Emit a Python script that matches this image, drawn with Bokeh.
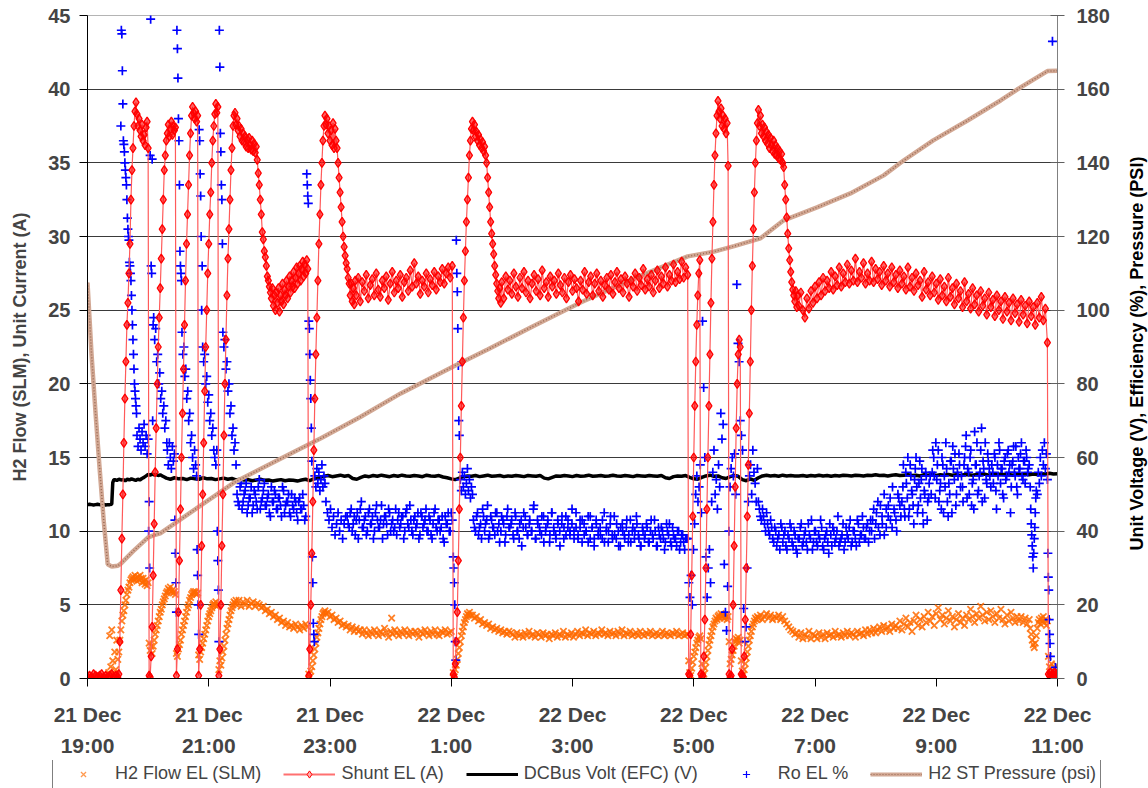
import numpy as np
from bokeh.plotting import figure
from bokeh.layouts import column, row
from bokeh.models import ColumnDataSource, Range1d, LinearAxis, FixedTicker, Legend, LegendItem, Label
from bokeh.embed import file_html
from bokeh.resources import INLINE

FONT = "Liberation Sans"

# ---------------- axis ticks / labels ----------------
x_ticks = [0, 120, 240, 360, 480, 600, 720, 840, 960]   # minutes after 21 Dec 19:00
x_tick_labels = ["21 Dec\n19:00", "21 Dec\n21:00", "21 Dec\n23:00", "22 Dec\n1:00", "22 Dec\n3:00",
                 "22 Dec\n5:00", "22 Dec\n7:00", "22 Dec\n9:00", "22 Dec\n11:00"]
left_ticks = [0, 5, 10, 15, 20, 25, 30, 35, 40, 45]
right_ticks = [0, 20, 40, 60, 80, 100, 120, 140, 160, 180]
left_title = "H2 Flow (SLM), Unit Current (A)"
right_title = "Unit Voltage (V), Efficiency (%), Pressure (PSI)"
series_names = ["H2 Flow EL (SLM)", "Shunt EL (A)", "DCBus Volt (EFC) (V)", "Ro EL %", "H2 ST Pressure (psi)"]

# ---------------- data (segments: start minute, end minute, values) ----------------
shunt_segments = [
    (0, 30, [0.1, 0.2, 0.1, 0.3, 0.2, 0.1, 0.2, 0.3, 0.1, 0.2, 0.1, 0.2, 0.3, 0.1, 0.2, 0.1]),
    (31, 47, [0.3, 2.5, 6, 9.5, 12.5, 16, 19, 21.5, 24, 25.5, 27.5, 29.5, 32.5, 34.5, 36, 37.5, 38.5]),
    (48, 60, [39.1, 38.3, 37.5, 38.0, 37.2, 36.8, 37.6, 36.5, 36.9, 36.2, 37.4, 37.8, 36.0]),
    (61, 62, [0.2, 0.1]),
    (63, 78, [1.5, 3.5, 7, 10.5, 14, 17, 20, 22.5, 24.5, 26.5, 28.5, 30.5, 32.5, 34.5, 35.5, 36.5]),
    (79, 87, [37.0, 37.6, 36.8, 37.3, 37.8, 36.9, 37.5, 37.2, 37.4]),
    (88, 88, [0.2]),
    (89, 103, [2, 4.5, 8, 11.5, 15, 18, 21, 24, 27, 29.5, 31.5, 33.5, 35.5, 37, 38.2]),
    (104, 109, [38.8, 38.4, 38.0, 38.5, 37.8, 38.2]),
    (110, 110, [0.2]),
    (111, 126, [2, 5, 9, 12.5, 16, 19.5, 22.5, 25, 27.5, 29.5, 31.5, 33, 35, 36.5, 37.5, 38.3]),
    (127, 129, [39.0, 38.4, 38.8]),
    (130, 130, [0.2]),
    (131, 144, [2, 5, 9, 12.5, 16.5, 20, 23, 26, 28.5, 30.5, 32.5, 34.5, 36, 37.5]),
    (145, 168, [38.2, 38.4, 37.6, 38.0, 37.2, 37.5, 36.8, 37.3, 36.5, 37.0, 36.4, 36.8, 36.1, 36.6, 36.0,
                36.7, 36.2, 35.9, 36.5, 35.8, 36.3, 35.7, 36.1, 35.2]),
    (169, 186, [34.3, 33.5, 32.5, 31.5, 30.3, 29.8, 29.0, 28.6, 28.0, 27.3, 27.0, 26.6, 26.2, 25.8, 26.5,
                25.3, 26.0, 25.0]),
    (187, 218, [26.2, 25.5, 26.5, 24.9, 26.0, 25.6, 26.8, 25.4, 26.4, 26.0, 27.0, 25.8, 26.6, 27.3, 26.2,
                27.0, 26.6, 27.6, 26.5, 27.2, 27.9, 26.8, 27.5, 28.0, 27.0, 27.8, 28.3, 27.3, 28.1, 27.5,
                28.4, 27.8]),
    (219, 219, [0.2]),
    (220, 234, [2, 5, 8.5, 12, 15.5, 19, 22, 24.5, 27, 29.5, 31.5, 33.5, 35, 36.5, 37.5]),
    (235, 247, [38.2, 37.6, 38.0, 37.0, 37.5, 36.5, 37.2, 36.2, 37.7, 36.0, 37.3, 36.5, 36.0]),
    (248, 265, [35.0, 34.0, 33.0, 32.0, 31.0, 30.0, 29.3, 28.7, 28.2, 27.8, 27.2, 26.8, 26.0, 26.8, 25.6,
                26.5, 25.4, 27.0]),
    (266, 361, [26.0, 27.2, 25.6, 26.9, 26.3, 27.4, 25.8, 26.7, 27.1, 26.0, 27.5, 26.4, 25.9, 27.0, 26.5,
                27.3, 25.7, 26.8, 27.6, 26.2, 27.0, 26.5, 27.4, 25.9, 26.9, 27.2, 26.3, 27.7, 26.6, 28.2,
                26.8, 27.3, 26.1, 27.0, 26.6, 27.5, 26.2, 27.1, 26.7, 27.6, 26.4, 27.3, 26.9, 27.8, 26.8,
                27.5, 27.9, 27.2, 28.0]),
    (362, 363, [0.3, 0.1]),
    (364, 380, [1, 2.5, 4.5, 8, 11.5, 15, 18.5, 21.5, 24.5, 27, 29, 31, 32.5, 34, 35.5, 36.5, 37.3]),
    (381, 394, [37.8, 37.2, 37.6, 36.8, 37.1, 36.5, 36.9, 36.2, 36.6, 36.0, 36.4, 35.8, 36.1, 35.5]),
    (395, 409, [35.0, 34.0, 33.0, 32.0, 31.0, 30.2, 29.5, 28.8, 28.0, 27.4, 26.8, 26.3, 25.8, 26.5, 25.5]),
    (410, 594, [26.9, 25.8, 27.3, 26.4, 27.0, 26.1, 27.5, 26.6, 25.9, 27.2, 26.5, 27.6, 26.2, 27.0, 25.8,
                26.8, 27.4, 26.3, 27.1, 26.0, 27.7, 26.5, 26.9, 25.9, 27.3, 26.6, 27.0, 26.1, 27.5, 26.7,
                26.2, 27.2, 25.8, 26.9, 27.4, 26.3, 27.1, 26.5, 25.6, 27.0, 26.4, 27.6, 26.1, 26.9, 27.3,
                26.0, 26.8, 27.5, 26.3, 27.0, 25.9, 26.7, 27.2, 26.4, 27.4, 26.1, 26.9, 27.6, 26.5, 27.1,
                26.2, 27.3, 26.8, 25.9, 27.0, 26.6, 27.5, 26.3, 27.2, 26.7, 27.8, 26.4, 27.1, 26.6, 27.4,
                26.2, 27.0, 27.7, 26.5, 27.3, 26.8, 27.9, 26.6, 27.4, 27.0, 28.1, 26.9, 27.6, 27.1, 28.3,
                27.2, 27.9, 27.4]),
    (595, 596, [0.3, 0.2]),
    (597, 606, [3, 7, 11, 15, 18.5, 21.5, 24, 26, 27.5, 28.4]),
    (607, 609, [0.3, 0.1, 0.2]),
    (610, 623, [1.5, 4, 7.5, 11.5, 15, 18.5, 22, 25.5, 28.5, 31, 33.5, 35.5, 37, 38.2]),
    (624, 634, [39.2, 38.5, 38.0, 38.7, 37.5, 38.2, 37.3, 38.0, 37.0, 37.7, 34.8]),
    (635, 637, [0.3, 0.1, 0.2]),
    (638, 646, [2, 5, 9, 13, 17, 20, 22, 23, 22.5]),
    (647, 649, [0.3, 0.2, 0.1]),
    (650, 663, [1.5, 4, 7.5, 11, 14.5, 18, 21.5, 25, 28, 30.5, 33, 35, 36.5, 37.7]),
    (664, 688, [38.6, 37.5, 38.2, 37.0, 37.6, 36.8, 37.4, 36.5, 37.1, 36.3, 36.9, 36.0, 36.7, 36.2, 35.8,
                36.5, 35.6, 36.2, 35.5, 36.0, 35.3, 35.8, 35.2, 35.6, 35.0]),
    (689, 703, [34.7, 33.5, 32.5, 31.3, 30.2, 29.2, 28.4, 27.6, 26.9, 26.4, 26.0, 25.6, 26.3, 25.2, 26.0]),
    (704, 950, [25.3, 26.2, 25.0, 24.5, 25.8, 25.1, 26.3, 25.5, 26.6, 25.8, 26.9, 26.0, 27.2, 26.3, 27.0,
                26.5, 27.6, 26.4, 27.3, 26.7, 27.9, 26.6, 27.5, 26.9, 28.1, 26.8, 27.7, 27.0, 28.5, 26.9,
                27.6, 27.2, 28.2, 26.8, 27.5, 27.0, 28.3, 26.9, 27.8, 27.1, 27.6, 26.7, 28.0, 27.0, 27.5,
                26.6, 27.9, 26.9, 27.4, 26.5, 27.7, 26.8, 27.3, 26.4, 27.9, 26.6, 27.2, 26.3, 27.5, 26.7,
                27.0, 25.9, 27.6, 26.4, 26.9, 26.0, 27.3, 26.2, 26.8, 25.7, 27.1, 26.0, 26.6, 25.6, 27.2,
                25.9, 26.5, 25.4, 26.8, 25.8, 26.3, 25.2, 26.9, 25.6, 26.1, 25.1, 26.5, 25.4, 26.0, 24.9,
                26.3, 25.3, 25.8, 24.7, 26.2, 25.2, 25.7, 24.6, 26.0, 25.0, 25.6, 24.4, 25.9, 24.9, 25.5,
                24.3, 25.8, 24.8, 25.4, 24.2, 25.7, 24.7, 25.3, 24.1, 25.6, 24.6, 25.2, 24.0, 25.5, 24.5,
                25.9, 24.3, 25.1, 22.8]),
    (951, 960, [0.3, 0.2, 0.4, 0.1, 0.3, 0.2, 0.4, 0.1, 0.3, 0.2]),
]

flow_segments = [
    (0, 20, [0.1, 0.0, 0.1, 0.1, 0.0, 0.1, 0.0, 0.1, 0.1, 0.0, 0.1]),
    (21, 30, [0.4, 2.9, 0.8, 3.3, 1.2, 0.3, 1.8, 0.6, 2.6, 1.3]),
    (31, 60, [1.8, 2.6, 3.3, 3.9, 4.3, 4.6, 5.0, 5.3, 5.7, 6.0, 6.2, 6.5, 6.7, 6.8, 6.9, 6.7, 7.0, 6.8,
              6.6, 6.9, 6.7, 7.0, 6.8, 6.5, 6.8, 6.6, 6.4, 6.7, 6.3, 6.5]),
    (61, 64, [2.4, 1.9, 2.2, 1.7]),
    (65, 87, [2.2, 2.6, 3.0, 3.3, 3.6, 3.9, 4.2, 4.5, 4.7, 5.0, 5.2, 5.4, 5.6, 5.8, 5.9, 6.1, 6.0, 6.2,
              5.9, 6.0, 5.8, 5.9, 5.7]),
    (88, 90, [1.7, 1.5, 2.0]),
    (91, 109, [2.3, 2.6, 3.0, 3.3, 3.6, 3.9, 4.2, 4.5, 4.8, 5.0, 5.3, 5.5, 5.7, 5.8, 5.9, 5.8, 5.9, 5.7, 5.8]),
    (110, 112, [1.6, 1.3, 1.8]),
    (113, 129, [2.1, 2.4, 2.7, 3.0, 3.3, 3.6, 3.9, 4.2, 4.4, 4.6, 4.8, 5.0, 5.1, 5.0, 5.2, 4.9, 5.0]),
    (130, 132, [0.6, 1.2, 0.9]),
    (133, 147, [1.4, 1.8, 2.2, 2.6, 3.0, 3.4, 3.7, 4.0, 4.3, 4.6, 4.8, 5.0, 5.2, 5.1, 5.3]),
    (148, 168, [5.0, 5.3, 4.9, 5.2, 5.0, 5.3, 4.9, 5.1, 5.2, 4.9, 5.1]),
    (170, 200, [5.0, 4.8, 4.9, 4.6, 4.7, 4.4, 4.5, 4.2, 4.3, 4.0, 4.1, 3.8, 3.9, 3.6, 3.8, 3.5]),
    (202, 218, [3.6, 3.4, 3.7, 3.5, 3.3, 3.6, 3.4, 3.7, 3.5]),
    (219, 222, [0.3, 0.1, 0.5, 0.8]),
    (223, 236, [1.2, 1.6, 2.0, 2.4, 2.8, 3.1, 3.4, 3.7, 4.0, 4.2, 4.4, 4.5, 4.6, 4.4]),
    (238, 270, [4.5, 4.2, 4.3, 4.0, 4.1, 3.8, 3.9, 3.6, 3.7, 3.5, 3.6, 3.3, 3.5, 3.2, 3.4, 3.2, 3.3]),
    (272, 360, [3.0, 3.3, 3.1, 2.9, 3.2, 3.0, 3.3, 3.1, 2.9, 3.2, 3.0, 3.4, 3.1, 2.8, 3.2, 3.0, 3.3, 3.1,
                2.9, 3.2, 3.0, 3.3, 3.1, 2.9, 3.2, 3.0, 3.2, 3.1, 2.8, 3.2, 3.0, 3.3, 3.1, 2.9, 3.2, 3.0,
                3.3, 3.0, 2.9, 3.2, 3.1, 3.3, 3.0, 3.1, 3.2]),
    (301, 301, [4.1]),
    (362, 365, [0.4, 0.1, 0.6, 0.9]),
    (366, 379, [1.3, 1.7, 2.1, 2.5, 2.9, 3.2, 3.5, 3.8, 4.0, 4.2, 4.4, 4.3, 4.5, 4.3]),
    (381, 419, [4.3, 4.1, 4.2, 3.9, 4.0, 3.7, 3.8, 3.6, 3.7, 3.4, 3.5, 3.3, 3.4, 3.2, 3.3, 3.1, 3.2, 3.0,
                3.2, 3.1]),
    (421, 593, [3.0, 2.8, 3.1, 2.9, 3.0, 2.8, 3.1, 2.9, 3.2, 2.9, 3.0, 2.8, 3.1, 3.0, 2.8, 3.1, 2.9, 3.0,
                2.7, 3.0, 2.9, 3.1, 2.8, 3.0, 2.9, 3.2, 2.8, 3.0, 2.9, 3.1, 2.8, 3.0, 3.2, 2.9, 3.1, 3.0,
                3.3, 2.9, 3.1, 3.0, 3.2, 2.9, 3.1, 3.0, 3.3, 3.0, 3.1, 2.9, 3.2, 3.0, 3.1, 2.9, 3.2, 3.0,
                3.3, 2.9, 3.1, 3.0, 3.2, 2.9, 3.0, 3.1, 2.9, 3.2, 3.0, 2.9, 3.1, 3.0, 3.2, 2.9, 3.0, 3.1,
                2.9, 3.0, 3.2, 2.9, 3.1, 3.0, 2.9, 3.1, 3.0, 3.2, 2.9, 3.0, 3.1, 2.9, 3.0]),
    (594, 663, [3.0, 1.2, 0.4, 0.2, 0.7, 1.1, 1.5, 1.8, 2.1, 2.4, 2.6, 2.8, 2.9, 2.7, 1.0, 0.5, 0.3, 0.7,
                1.1, 1.5, 1.9, 2.3, 2.6, 2.9, 3.2, 3.5, 3.7, 3.9, 4.1, 4.0, 4.2, 4.3, 4.1, 4.4, 4.2, 4.3,
                4.1, 4.3, 4.2, 4.0, 4.2, 2.5, 1.0, 1.3, 1.6, 1.9, 2.2, 2.5, 2.7, 2.6, 2.8, 2.4, 2.6, 1.2,
                0.5, 0.3, 0.6, 1.0, 1.4, 1.8, 2.2, 2.6, 2.9, 3.2, 3.5, 3.7, 3.9, 4.1, 4.0, 4.2]),
    (664, 688, [4.1, 4.3, 4.0, 4.2, 4.4, 4.1, 4.3, 4.0, 4.2, 4.1, 4.3, 4.0, 4.2]),
    (690, 702, [3.9, 3.7, 3.5, 3.3, 3.2, 3.0, 3.1]),
    (704, 770, [2.8, 3.1, 2.7, 3.0, 2.8, 3.2, 2.7, 3.0, 2.9, 2.7, 3.1, 2.8, 3.0, 2.7, 3.1, 2.9, 3.0, 2.8,
                3.2, 2.9, 3.0, 2.8, 3.1, 2.9, 3.2, 2.9, 3.1, 3.0, 2.8, 3.2, 3.0, 3.1, 2.9, 3.3]),
    (772, 800, [3.0, 3.3, 3.1, 3.4, 3.1, 3.3, 3.5, 3.2, 3.6, 3.3, 3.5, 3.2, 3.7, 3.4, 3.6]),
    (802, 830, [3.4, 3.9, 3.3, 3.7, 4.1, 3.5, 3.8, 3.2, 3.9, 4.3, 3.6, 4.0, 3.5, 4.2, 3.8]),
    (832, 870, [4.5, 3.9, 4.2, 3.6, 4.4, 4.8, 4.0, 4.3, 3.7, 4.1, 4.6, 3.9, 4.2, 3.5, 4.0, 4.4, 3.8, 4.1,
                3.6, 4.3]),
    (872, 920, [4.0, 4.7, 4.2, 3.8, 4.4, 4.1, 4.9, 4.3, 3.9, 4.5, 4.0, 4.6, 4.2, 3.8, 4.4, 4.1, 4.7, 4.0,
                3.7, 4.3, 3.9, 4.5, 4.1, 3.8, 4.2]),
    (922, 932, [3.9, 4.2, 3.8, 4.1, 3.7, 4.0]),
    (933, 941, [3.4, 3.0, 2.6, 2.3, 2.1, 2.4, 2.9, 3.4, 3.8]),
    (942, 950, [4.0, 3.7, 4.1, 3.9, 4.2, 3.8, 4.0, 3.6, 3.9]),
    (951, 960, [1.5, 0.8, 0.3, 1.0, 0.5, 0.2, 0.7, 0.4, 0.9, 0.3]),
]

ro_segments = [
    (33, 48.5, [150, 176, 175, 165, 156, 146, 145, 143, 140, 138, 136, 134, 130, 125, 122, 120, 119, 113,
                112, 110, 108, 104, 100, 96, 92, 88, 84, 80, 78, 76, 74, 72]),
    (49, 60, [66, 63, 68, 65, 62, 67, 64, 69, 63, 66, 61, 65]),
    (60.5, 65, [40, 48, 30, 142, 179, 112, 110, 141, 70, 96]),
    (65.5, 78.5, [98, 92, 95, 86, 88, 80, 83, 76, 78, 72, 74, 68, 70, 64]),
    (79, 86, [62, 58, 64, 60, 57, 63, 59, 61]),
    (86.5, 88, [43, 34, 26, 18]),
    (88.5, 93, [176, 171, 163, 152, 146, 134, 116, 112, 110, 108]),
    (93.5, 103, [94, 88, 90, 82, 84, 76, 78, 70, 72, 64, 66]),
    (104, 108, [60, 57, 62, 58, 55]),
    (108.5, 110, [35, 28, 20, 12]),
    (110.5, 113.5, [149, 146, 137, 131, 120, 100, 112]),
    (114, 126, [90, 86, 88, 80, 82, 75, 77, 70, 72, 66, 68, 62, 60]),
    (127, 128, [58, 62]),
    (128.5, 130, [40, 32, 24, 10]),
    (130.5, 133.5, [176, 166, 148, 143, 134, 130, 118]),
    (134, 147, [94, 90, 92, 84, 86, 78, 80, 72, 74, 66, 68, 62, 64, 58]),
    (148, 216, [50, 47, 53, 48, 51, 45, 49, 52, 47, 50, 46, 54, 48, 51, 47, 49, 45, 52, 48, 50, 46, 49,
                44, 51, 47, 48, 45, 50, 46, 48, 43, 49, 46, 47, 44]),
    (149, 215, [48, 52, 46, 50, 53, 47, 49, 45, 51, 48, 52, 46, 49, 53, 47, 50, 44, 48, 51, 46, 49, 47,
                52, 45, 48, 50, 44, 47, 49, 45, 48, 46, 50, 43]),
    (217, 224.5, [137, 134, 131, 129, 97, 95, 88, 81, 76, 68, 59, 33, 26, 15, 12, 10]),
    (225, 235, [55, 52, 57, 53, 56, 51, 54, 58, 52, 55, 53]),
    (236, 255.5, [48, 45, 43, 46, 41, 44, 39, 42, 45, 40, 43, 38, 42, 44]),
    (257, 361, [44, 41, 46, 42, 39, 45, 43, 48, 41, 44, 40, 46, 42, 38, 45, 43, 41, 47, 42, 44, 39, 45,
                42, 40, 46, 43, 41, 44, 38, 45, 42, 47, 40, 43, 41, 45, 39, 44, 42, 46, 40, 43, 38, 45,
                41, 43, 40, 44, 37, 42, 45, 40, 43]),
    (258, 360, [42, 45, 40, 44, 43, 38, 46, 41, 43, 39, 45, 42, 44, 40, 47, 41, 43, 38, 44, 42, 46, 40,
                43, 41, 39, 45, 42, 44, 40, 46, 41, 43, 39, 44, 42, 38, 45, 41, 43, 40, 44, 39, 42, 46,
                40, 43, 41, 38, 44, 42, 40, 45]),
    (362, 368, [33, 30, 26, 20, 10, 5, 119, 110, 105, 95, 85, 70, 66]),
    (369, 381, [54, 51, 56, 52, 55, 50, 53, 57, 51, 54, 49, 52, 50]),
    (382, 593, [43, 40, 45, 41, 38, 44, 42, 47, 39, 43, 41, 45, 40, 37, 44, 42, 39, 46, 41, 43, 38, 44,
                40, 42, 36, 45, 41, 39, 43, 40, 47, 38, 42, 40, 44, 37, 41, 43, 39, 45, 40, 38, 42, 36,
                44, 41, 39, 43, 40, 46, 38, 41, 39, 43, 37, 42, 40, 44, 38, 41, 36, 43, 39, 41, 38, 45,
                40, 37, 42, 39, 44, 38, 40, 36, 42, 39, 41, 37, 43, 40, 38, 44, 39, 36, 41, 38, 42, 37,
                40, 39, 43, 36, 41, 38, 40, 35, 42, 39, 37, 41, 38, 36, 40, 37, 39, 35, 38]),
    (383, 592, [41, 44, 39, 42, 46, 40, 43, 38, 44, 41, 39, 45, 42, 40, 43, 37, 44, 41, 42, 39, 45, 40,
                38, 43, 41, 44, 39, 42, 40, 46, 38, 43, 41, 39, 44, 40, 42, 37, 45, 41, 39, 43, 40, 42,
                38, 44, 41, 39, 42, 40, 45, 38, 41, 43, 39, 40, 37, 44, 41, 38, 42, 40, 39, 43, 37, 41,
                40, 44, 38, 39, 42, 36, 41, 40, 38, 43, 39, 37, 41, 40, 42, 38, 36, 40, 39, 41, 37, 43,
                38, 40, 36, 39, 41, 38, 37, 40, 42, 36, 39, 38, 40, 35, 39, 37, 38]),
    (594, 663, [38, 26, 22, 28, 20, 35, 42, 50, 55, 48, 52, 58, 45, 97, 79, 60, 33, 22, 30, 35, 26, 48,
                56, 62, 50, 54, 46, 58, 52, 72, 65, 69, 31, 18, 13, 25, 40, 52, 57, 60, 55, 61, 50, 107,
                91, 86, 70, 66, 62, 19, 10, 14, 30, 48, 55, 58, 50, 62, 56, 53, 48, 57]),
    (664, 775, [48, 44, 46, 42, 45, 40, 43, 38, 41, 36, 39, 42, 37, 40, 35, 38, 41, 36, 39, 34, 38, 42,
                37, 40, 35, 39, 43, 37, 40, 36, 38, 41, 35, 39, 37, 42, 36, 40, 38, 44, 37, 39, 35, 41,
                38, 43, 37, 40, 36, 42, 39, 44, 38, 41, 37, 43]),
    (665, 774, [46, 43, 44, 40, 42, 39, 41, 37, 40, 38, 35, 41, 39, 36, 39, 42, 37, 40, 35, 38, 41, 36,
                39, 37, 42, 38, 35, 40, 37, 39, 43, 36, 38, 40, 34, 39, 41, 37, 40, 36, 38, 42, 37, 39,
                41, 36, 40, 38, 43, 37, 39, 41, 38, 42, 40]),
    (776, 805, [40, 46, 42, 48, 39, 44, 50, 41, 47, 43, 52, 45, 40, 49, 44]),
    (777, 804, [43, 38, 45, 41, 47, 42, 39, 46, 44, 49, 41, 46, 43, 50, 47]),
    (806, 834, [48, 58, 44, 53, 60, 46, 55, 50, 42, 57, 52, 47, 59, 54, 45, 51, 56, 43, 49, 55]),
    (807, 833, [52, 46, 56, 49, 44, 58, 51, 47, 54, 60, 45, 53, 49, 57, 42, 50, 55, 48, 53]),
    (835, 864, [50, 62, 55, 64, 58, 48, 53, 60, 45, 52, 57, 44, 50, 59, 63, 54, 47, 56, 61, 52]),
    (836, 863, [56, 60, 49, 54, 62, 51, 46, 58, 55, 64, 48, 53, 59, 45, 57, 61, 50, 55, 58]),
    (865, 894, [55, 48, 60, 66, 57, 50, 62, 53, 46, 58, 64, 51, 56, 68, 59, 49, 54, 61, 57, 52]),
    (866, 893, [52, 58, 63, 49, 56, 60, 47, 54, 67, 58, 50, 55, 62, 48, 57, 64, 53, 59, 55]),
    (895, 932, [58, 53, 60, 46, 55, 62, 57, 50, 59, 54, 61, 56, 45, 58, 63, 55, 52, 60, 57, 64, 54, 59,
                62, 56, 58]),
    (896, 931, [56, 61, 51, 58, 64, 53, 57, 49, 60, 55, 62, 58, 52, 59, 56, 63, 50, 57, 61, 55, 59, 53,
                60, 57]),
    (933, 939, [52, 46, 42, 39, 36, 33, 30, 34, 38, 41, 45, 49, 51]),
    (940, 950, [50, 56, 53, 60, 55, 62, 58, 64, 57, 61, 54]),
    (950.5, 953, [34, 27.5, 24, 16, 12, 9.5, 6]),
    (955, 958, [173, 3]),
]

bus_segments = [
    (0, 24, [47.2, 47.3, 47.2, 47.1, 47.2, 47.3, 47.2, 47.2, 47.3, 47.1, 47.2, 47.2, 47.3]),
    (25, 26, [53.2, 53.9]),
    (27, 58, [54.0, 53.8, 54.1, 53.9, 54.0, 53.7, 54.1, 53.9, 54.2, 54.0, 53.8, 54.1, 53.9, 54.3, 54.6, 55.0]),
    (60, 76, [55.4, 55.2, 55.5, 55.3, 55.4, 55.1, 55.3, 55.0, 54.7]),
    (78, 228, [54.4, 54.1, 54.5, 54.2, 54.3, 54.0, 54.4, 54.2, 54.1, 54.5, 54.2, 54.3, 54.0, 54.2, 54.4,
               54.1, 54.3, 53.9, 54.1, 53.9, 54.0, 53.7, 53.9, 54.1, 53.8, 53.9, 53.6, 53.8, 54.0, 53.7,
               53.9, 53.8, 53.6, 53.9, 54.1, 53.7, 54.2, 54.4]),
    (230, 360, [54.6, 54.9, 55.1, 54.8, 55.0, 55.2, 54.9, 55.1, 54.3, 54.1, 54.6, 55.0, 54.8, 55.1, 54.9,
                55.2, 55.0, 54.8, 55.1, 54.9, 55.2, 55.0, 54.9, 55.1, 55.0, 54.8, 55.2, 55.0, 54.9, 55.1,
                54.7, 54.5, 54.2]),
    (364, 600, [54.0, 54.4, 54.8, 55.0, 54.9, 55.1, 54.8, 55.0, 55.2, 54.9, 55.0, 55.1, 54.8, 55.0, 54.9,
                55.1, 55.0, 54.8, 55.1, 55.0, 54.9, 55.1, 54.4, 54.2, 54.6, 55.0, 54.9, 55.1, 55.0, 54.8,
                55.1, 54.9, 55.0, 55.2, 54.9, 55.0, 55.1, 54.9, 55.0, 55.2, 55.0, 54.9, 55.1, 55.0, 54.8,
                55.1, 55.0, 54.9, 55.1, 55.0, 54.9, 55.1, 54.5, 54.3, 54.8, 55.0, 54.9, 55.1, 54.6, 54.2]),
    (604, 700, [54.1, 54.6, 55.0, 55.2, 54.9, 55.0, 54.5, 54.3, 54.8, 55.1, 54.9, 54.0, 53.7, 54.2, 53.8,
                54.5, 55.0, 55.2, 55.0, 55.1, 54.9, 55.2, 55.0, 55.1, 55.0]),
    (704, 960, [55.0, 55.1, 54.9, 55.1, 55.0, 55.2, 55.0, 55.1, 54.9, 55.1, 55.0, 55.2, 55.1, 55.0, 55.2,
                55.1, 55.0, 55.2, 55.1, 55.3, 55.1, 55.2, 55.0, 55.2, 55.3, 55.1, 55.2, 55.3, 55.1, 55.2,
                55.0, 55.3, 55.2, 55.4, 55.1, 55.3, 55.2, 55.4, 55.2, 55.3, 55.1, 55.4, 55.3, 55.2, 55.4,
                55.3, 55.5, 55.2, 55.4, 55.3, 55.5, 55.3, 55.4, 55.2, 55.5, 55.4, 55.6, 55.3, 55.5, 55.4,
                55.6, 55.5, 55.7, 55.5, 55.6]),
]

pressure_t = [0, 4, 8, 12, 16, 20, 24, 30, 33, 45, 60, 66, 72, 100, 145, 190, 231, 270, 310, 364, 396,
              440, 488, 540, 594, 620, 640, 666, 689, 722, 755, 788, 808, 837, 871, 904, 920, 950, 960]
pressure_psi = [107.5, 88, 72, 57, 43, 31, 30.4, 30.6, 31.2, 34.5, 38.3, 38.9, 39.4, 44.7, 53.2, 59.5,
                65.2, 71.0, 77.4, 85.0, 89.3, 95.5, 102.1, 108.5, 114.6, 115.9, 117.4, 119.5, 124.4,
                127.9, 131.7, 136.6, 140.7, 146.1, 151.5, 157.0, 159.9, 164.9, 165.0]


def build(segments):
    t, v = [], []
    for t0, t1, vals in segments:
        t.extend(np.linspace(t0, t1, len(vals)).tolist())
        v.extend(vals)
    return t, v


shunt_t, shunt_a = build(shunt_segments)
flow_t, flow_slm = build(flow_segments)
ro_t, ro_pct = build(ro_segments)
bus_t, bus_v = build(bus_segments)

src_shunt = ColumnDataSource(dict(t=shunt_t, v=shunt_a))
src_flow = ColumnDataSource(dict(t=flow_t, v=flow_slm))
src_ro = ColumnDataSource(dict(t=ro_t, v=ro_pct))
src_bus = ColumnDataSource(dict(t=bus_t, v=bus_v))
src_p = ColumnDataSource(dict(t=pressure_t, v=pressure_psi))

# ---------------- main figure ----------------
W, H_MAIN, W_TITLE, H_LEG = 1118, 760, 30, 28
p = figure(width=W, height=H_MAIN, x_range=Range1d(0, 960), y_range=Range1d(0, 45),
           output_backend="svg", toolbar_location=None,
           min_border_left=87, min_border_right=61, min_border_top=15, min_border_bottom=82)
p.extra_y_ranges = {"right": Range1d(0, 180)}
p.background_fill_color = "white"
p.border_fill_color = "white"
p.outline_line_color = "#b4b4b4"

p.xgrid.grid_line_color = None
p.ygrid.ticker = FixedTicker(ticks=[5, 10, 15, 20, 25, 30, 35, 40])
p.ygrid.grid_line_color = "#3a3a3a"
p.ygrid.grid_line_width = 1

# left axis
ya = p.yaxis[0]
ya.ticker = FixedTicker(ticks=left_ticks)
ya.axis_label = left_title
ya.axis_label_text_font = FONT
ya.axis_label_text_font_size = "18px"
ya.axis_label_text_font_style = "bold"
ya.axis_label_standoff = 15
ya.major_label_text_font = FONT
ya.major_label_text_font_size = "20px"
ya.major_label_text_font_style = "bold"
ya.major_label_standoff = 9
ya.major_tick_out = 8
ya.major_tick_in = 0
ya.minor_tick_out = 0
ya.minor_tick_in = 0
ya.axis_line_color = "black"
ya.major_tick_line_color = "black"

# bottom axis
xa = p.xaxis[0]
xa.ticker = FixedTicker(ticks=x_ticks)
xa.major_label_overrides = {t: lab for t, lab in zip(x_ticks, x_tick_labels)}
xa.major_label_text_font = FONT
xa.major_label_text_font_size = "21px"
xa.major_label_text_font_style = "bold"
xa.major_label_text_line_height = 1.35
xa.major_label_standoff = 16
xa.major_tick_out = 8
xa.major_tick_in = 0
xa.minor_tick_out = 0
xa.minor_tick_in = 0
xa.axis_line_color = "black"

# right axis (title drawn in its own strip so it reads bottom-to-top)
ra = LinearAxis(y_range_name="right", ticker=FixedTicker(ticks=right_ticks))
ra.major_label_text_font = FONT
ra.major_label_text_font_size = "20px"
ra.major_label_text_font_style = "bold"
ra.major_label_standoff = 12
ra.major_tick_out = 7
ra.major_tick_in = 7
ra.minor_tick_out = 0
ra.minor_tick_in = 0
ra.axis_line_color = "#808080"
ra.major_tick_line_color = "#606060"
p.add_layout(ra, "right")

# ---------------- series ----------------
ORANGE, RED, PINK, BLUE, TAN, BROWN = "#FF6A00", "#FF0000", "#FF5A5A", "#0000FF", "#D2A894", "#9C6C56"
p.scatter("t", "v", source=src_flow, marker="x", size=9, line_color=ORANGE, line_width=1.8, line_alpha=0.85)
p.line("t", "v", source=src_bus, y_range_name="right", line_color="black", line_width=3.5)
p.scatter("t", "v", source=src_ro, y_range_name="right", marker="cross", size=9,
          line_color=BLUE, line_width=1.7)
p.line("t", "v", source=src_p, y_range_name="right", line_color=TAN, line_width=4.5)
p.line("t", "v", source=src_p, y_range_name="right", line_color=BROWN, line_width=1.5, line_dash="1 2")
p.line("t", "v", source=src_shunt, line_color=PINK, line_width=1.2)
p.scatter("t", "v", source=src_shunt, marker="diamond", size=9, line_color=RED,
          fill_color=RED, fill_alpha=0.6, line_width=1.3)

# ---------------- right-hand title strip ----------------
tt = figure(width=W_TITLE, height=H_MAIN, x_range=Range1d(0, W_TITLE), y_range=Range1d(0, H_MAIN),
            output_backend="svg", toolbar_location=None, x_axis_type=None, y_axis_type=None,
            min_border=0, min_border_left=0, min_border_right=0, min_border_top=0, min_border_bottom=0)
tt.frame_align = False
tt.outline_line_color = None
tt.grid.visible = False
tt.background_fill_color = "white"
tt.border_fill_color = "white"
tt.add_layout(Label(x=18, y=H_MAIN - 353, text=right_title, angle=90, angle_units="deg",
                    text_align="center", text_baseline="middle", text_font=FONT,
                    text_font_size="18px", text_font_style="bold", text_color="black"))

# ---------------- legend strip (keys mirror the series styles) ----------------
lg = figure(width=W + W_TITLE, height=H_LEG, x_range=Range1d(0, 1), y_range=Range1d(0, 1),
            output_backend="svg", toolbar_location=None, x_axis_type=None, y_axis_type=None,
            min_border=0, min_border_left=0, min_border_right=0, min_border_top=0, min_border_bottom=0)
lg.frame_align = False
lg.outline_line_color = None
lg.grid.visible = False
lg.background_fill_color = "white"
lg.border_fill_color = "white"
off = dict(x=[-5.0, -4.0], y=[-5.0, -4.0])   # keys only: points lie outside the strip's range
k_flow = lg.scatter(off["x"], off["y"], marker="x", size=6, line_color="#FF9A50", line_width=1.3)
k_sh_l = lg.line(off["x"], off["y"], line_color="#FF7070", line_width=2)
k_sh_m = lg.scatter(off["x"], off["y"], marker="diamond", size=7, line_color=RED, fill_color="#FFB0B0",
                    line_width=1)
k_bus = lg.line(off["x"], off["y"], line_color="black", line_width=3)
k_ro = lg.scatter(off["x"], off["y"], marker="cross", size=5, line_color=BLUE, line_width=1.2)
k_p1 = lg.line(off["x"], off["y"], line_color=TAN, line_width=4)
k_p2 = lg.line(off["x"], off["y"], line_color=BROWN, line_width=1.2, line_dash="1 2")

legend = Legend(items=[
    LegendItem(label=series_names[0], renderers=[k_flow]),
    LegendItem(label=series_names[1], renderers=[k_sh_l, k_sh_m]),
    LegendItem(label=series_names[2], renderers=[k_bus]),
    LegendItem(label=series_names[3], renderers=[k_ro]),
    LegendItem(label=series_names[4], renderers=[k_p1, k_p2]),
], orientation="horizontal", location=(52, -1))
legend.label_text_font = FONT
legend.label_text_font_size = "18px"
legend.glyph_width = 52
legend.glyph_height = 18
legend.label_height = 18
legend.label_standoff = 6
legend.spacing = 22
legend.padding = 4
legend.margin = 0
legend.border_line_color = "black"
legend.border_line_width = 1
legend.background_fill_color = "white"
lg.add_layout(legend, "center")

layout = column(row(p, tt, spacing=0), lg, spacing=0)
open("out.html", "w").write(file_html(layout, INLINE))
